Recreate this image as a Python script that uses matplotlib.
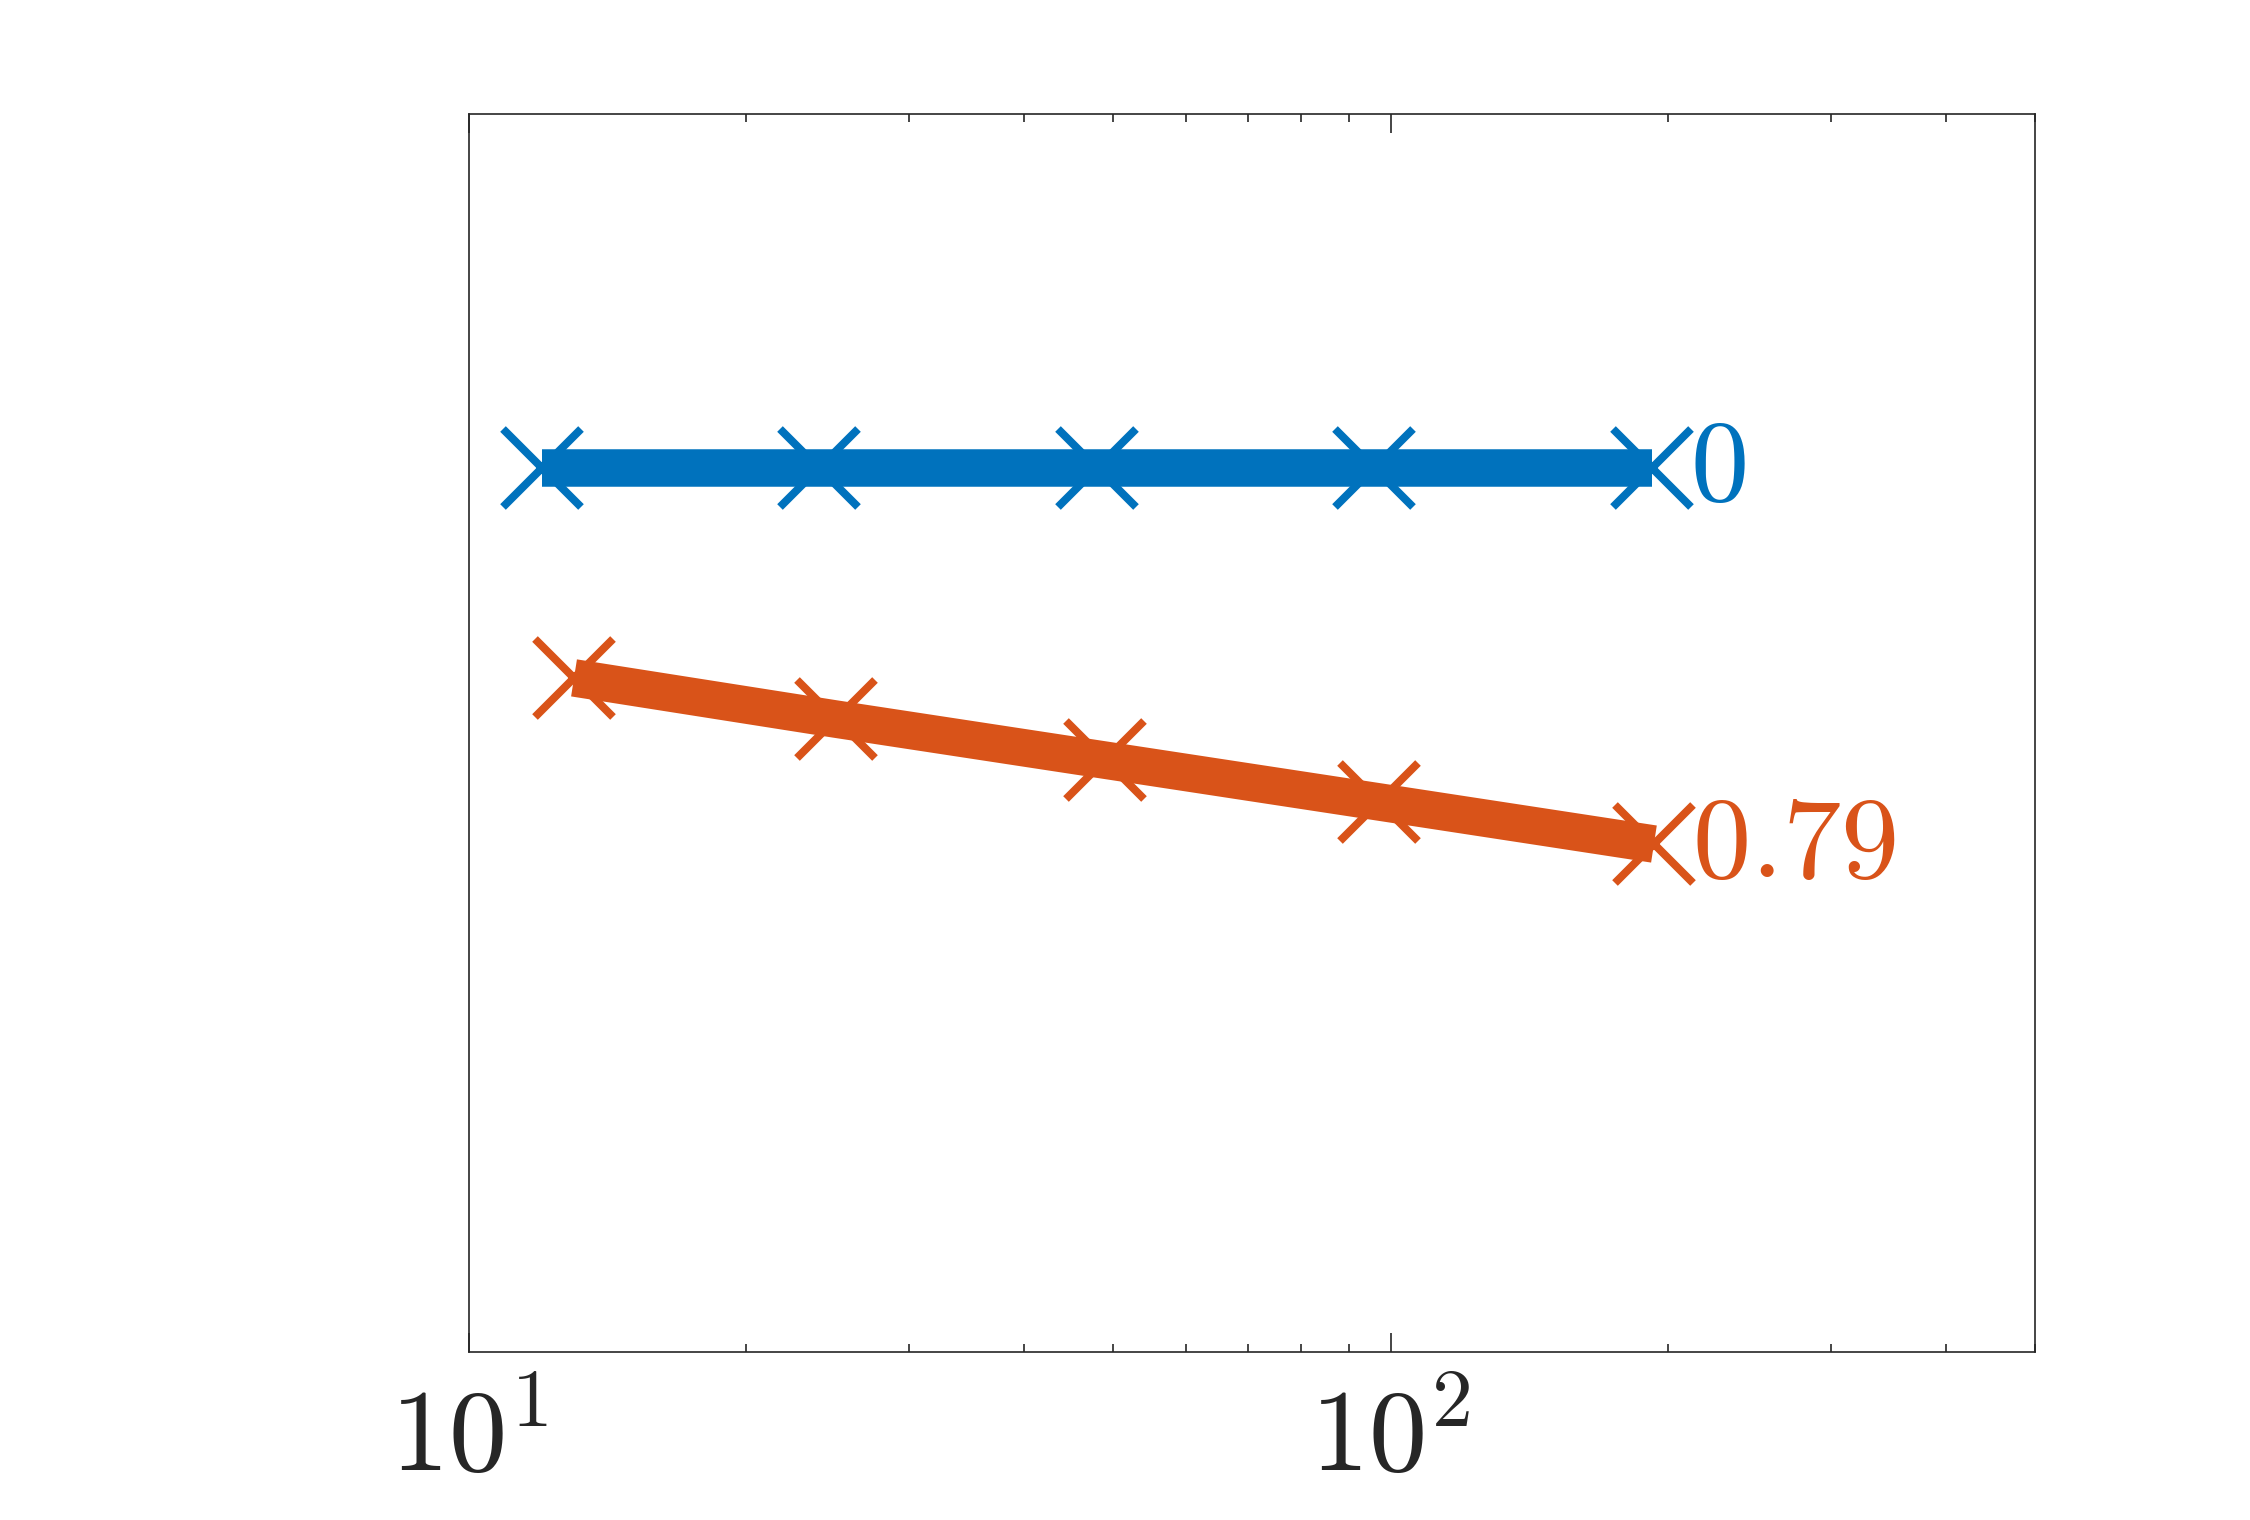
import matplotlib
matplotlib.use("Agg")
import matplotlib.pyplot as plt
from matplotlib.ticker import FixedLocator, NullFormatter, NullLocator

# ---- data ----
n_blue = [12, 24, 48, 96, 192]
err_blue = [1.0, 1.0, 1.0, 1.0, 1.0]
n_orange = [13, 25, 49, 97, 193]
err_orange = [0.0648, 0.0379, 0.0222, 0.0129, 0.00745]
rate_labels = ["0", "0.79"]
xtick_vals = [10, 100]
xtick_labels = [r"$10^{1}$", r"$10^{2}$"]
minor_vals = [20, 30, 40, 50, 60, 70, 80, 90, 200, 300, 400, 500]

BLUE = "#0072BD"
ORANGE = "#D95319"
AXC = "#262626"

plt.rcParams["mathtext.fontset"] = "cm"

fig = plt.figure(figsize=(7.5, 1520 / 300), dpi=300)
ax = fig.add_axes([469 / 2250, 1 - 1352 / 1520, (2035 - 469) / 2250, (1352 - 114) / 1520])
ax.set_xscale("log")
ax.set_yscale("log")
ax.set_xlim(10, 500)
ax.set_ylim(1e-5, 1e2)

series = [(n_blue, err_blue, BLUE, rate_labels[0]),
          (n_orange, err_orange, ORANGE, rate_labels[1])]
for xs, ys, col, lab in series:
    ax.plot(xs, ys, linestyle="none", marker="x", markersize=18.5,
            markeredgewidth=1.9, color=col, zorder=2)
    ax.plot(xs, ys, linestyle="-", linewidth=9, color=col,
            solid_capstyle="butt", zorder=3)
    ax.text(xs[-1] * 1.1, ys[-1], "$" + lab + "$", color=col,
            fontsize=28, ha="left", va="center", zorder=4)

ax.xaxis.set_major_locator(FixedLocator(xtick_vals))
ax.set_xticklabels(xtick_labels)
ax.xaxis.set_minor_locator(FixedLocator(minor_vals))
ax.xaxis.set_minor_formatter(NullFormatter())
ax.yaxis.set_major_locator(NullLocator())
ax.yaxis.set_minor_locator(NullLocator())

ax.tick_params(axis="x", which="both", direction="in", top=True, bottom=True,
               color=AXC, width=0.4, labelsize=28, labelcolor=AXC, pad=7)
ax.tick_params(axis="x", which="major", length=4.5)
ax.tick_params(axis="x", which="minor", length=2.0)
for sp in ax.spines.values():
    sp.set_color(AXC)
    sp.set_linewidth(0.4)

fig.savefig("out.png", dpi=300, facecolor="white")
